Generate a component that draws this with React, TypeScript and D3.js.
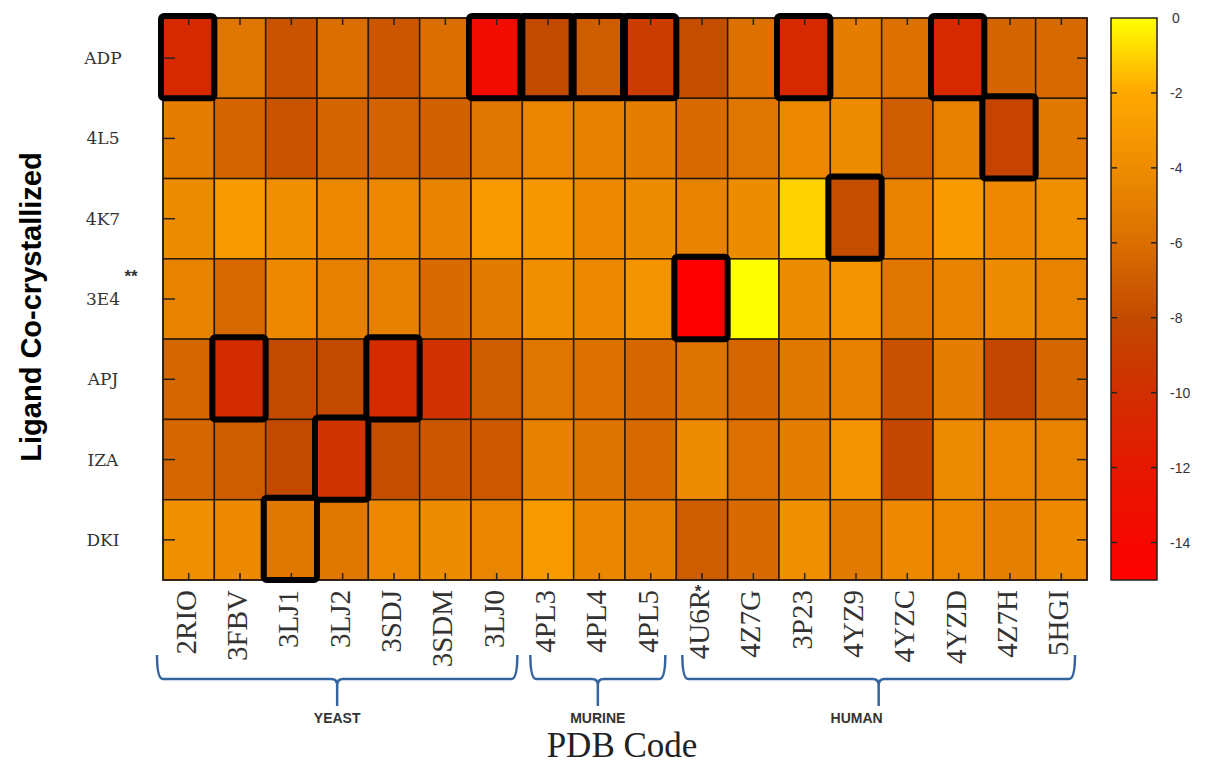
import React from 'react';
import * as d3 from 'd3';

const pdbCodes = ['2RIO', '3FBV', '3LJ1', '3LJ2', '3SDJ', '3SDM', '3LJ0', '4PL3', '4PL4', '4PL5',
  '4U6R', '4Z7G', '3P23', '4YZ9', '4YZC', '4YZD', '4Z7H', '5HGI'];
const ligands = ['ADP', '4L5', '4K7', '3E4', 'APJ', 'IZA', 'DKI'];

// docking scores, one array per ligand (row), in pdbCodes order
const scoreADP = [-10.5, -5.5, -7.5, -6.0, -7.3, -6.0, -13.5, -8.0, -7.0, -9.0, -7.8, -5.8, -10.5, -5.0, -5.8, -10.5, -6.5, -6.3];
const score4L5 = [-5.0, -6.5, -7.5, -6.5, -6.6, -6.8, -5.5, -4.5, -4.7, -5.0, -6.2, -5.5, -4.3, -4.0, -7.0, -4.8, -8.5, -5.3];
const score4K7 = [-4.0, -3.0, -3.8, -4.3, -4.3, -4.6, -3.0, -3.2, -4.2, -4.0, -4.6, -4.0, -1.0, -7.8, -4.6, -3.0, -4.2, -3.8];
const score3E4 = [-4.6, -6.3, -4.2, -4.8, -4.8, -6.2, -5.2, -3.8, -4.2, -3.5, -15.0, 0.0, -4.0, -3.4, -5.5, -4.6, -4.0, -4.6];
const scoreAPJ = [-6.4, -10.3, -8.0, -8.0, -10.3, -9.8, -7.0, -5.5, -5.8, -6.4, -5.7, -6.4, -5.4, -4.7, -7.6, -5.0, -8.2, -6.4];
const scoreIZA = [-6.4, -7.0, -8.0, -9.5, -7.8, -7.3, -7.2, -4.7, -5.6, -6.3, -4.0, -5.9, -5.0, -3.4, -8.2, -4.1, -4.5, -4.6];
const scoreDKI = [-3.8, -4.2, -5.4, -5.4, -4.3, -4.0, -4.5, -3.0, -4.4, -4.9, -7.0, -6.2, -3.8, -5.2, -4.2, -4.3, -4.9, -4.2];
const scores = [scoreADP, score4L5, score4K7, score3E4, scoreAPJ, scoreIZA, scoreDKI];

// highlighted (best) ligand for each PDB code
const boxed: [string, string][] = [
  ['ADP', '2RIO'], ['ADP', '3LJ0'], ['ADP', '4PL3'], ['ADP', '4PL4'], ['ADP', '4PL5'],
  ['ADP', '3P23'], ['ADP', '4YZD'], ['4L5', '4Z7H'], ['4K7', '4YZ9'], ['3E4', '4U6R'],
  ['APJ', '3FBV'], ['APJ', '3SDJ'], ['IZA', '3LJ2'], ['DKI', '3LJ1'],
];

const groups = [
  { name: 'YEAST', from: '2RIO', to: '3LJ0' },
  { name: 'MURINE', from: '4PL3', to: '4PL5' },
  { name: 'HUMAN', from: '4U6R', to: '5HGI' },
];

const colorTicks = [0, -2, -4, -6, -8, -10, -12, -14];

const colorStops = [0, -1, -2, -4, -6, -8, -10, -12, -15];
const colorRange = ['#ffff00', '#ffd200', '#ffa800', '#ee8c00', '#da6e00', '#c24a00', '#d22e00', '#e61800', '#ff0000'];

export default function App() {
  const left = 163, right = 1087, top = 18, bottom = 580;
  const x = d3.scaleBand().domain(pdbCodes).range([left, right]);
  const y = d3.scaleBand().domain(ligands).range([top, bottom]);
  const color = d3.scaleLinear<string>().domain(colorStops).range(colorRange).interpolate(d3.interpolateRgb);

  const cbX = 1111, cbW = 46;
  const cbY = d3.scaleLinear().domain([0, -15]).range([18, 580]);

  const gradStops = d3.range(0, -15.01, -0.5);

  const serif = 'Liberation Serif, DejaVu Serif, serif';
  const slab = "'DejaVu Serif', serif";
  const sans = 'Liberation Sans, Arial, sans-serif';

  const bw = x.bandwidth(), bh = y.bandwidth();

  // brace end tweaks (left, right) and label nudge per group
  const braceAdj = [[-6, -5, 0], [8, -11, 0], [6, -12, -22]];

  const brace = (x0: number, x1: number) => {
    const yTop = 655, yMid = 679, yTip = 706, r = 6;
    const cx = (x0 + x1) / 2;
    return `M${x0},${yTop} Q${x0},${yMid} ${x0 + r},${yMid} L${cx - r},${yMid} Q${cx},${yMid} ${cx},${yMid + r} L${cx},${yTip}`
      + ` M${cx},${yMid + r} Q${cx},${yMid} ${cx + r},${yMid} L${x1 - r},${yMid} Q${x1},${yMid} ${x1},${yTop}`;
  };

  return (
    <svg width={1207} height={767} style={{ position: 'absolute', left: 0, top: 0, background: '#fff' }}>
      <defs>
        <linearGradient id="cbar" x1="0" y1="0" x2="0" y2="1">
          {gradStops.map(v => (
            <stop key={v} offset={`${(v / -15) * 100}%`} stopColor={color(v)} />
          ))}
        </linearGradient>
      </defs>

      {/* cells */}
      {ligands.map((lig, i) =>
        pdbCodes.map((code, j) => (
          <rect key={lig + code} x={x(code)} y={y(lig)} width={bw} height={bh}
            fill={color(scores[i][j])} stroke="#2a1a0a" strokeWidth={1.5} />
        ))
      )}
      <rect x={left} y={top} width={right - left} height={bottom - top} fill="none" stroke="#2a1a0a" strokeWidth={1.5} />

      {/* ticks */}
      {pdbCodes.map(code => {
        const cx = x(code)! + bw / 2;
        return (
          <g key={'t' + code} stroke="#222" strokeWidth={1.5}>
            <line x1={cx} x2={cx} y1={top} y2={top + 7} />
            <line x1={cx} x2={cx} y1={bottom} y2={bottom - 7} />
          </g>
        );
      })}
      {ligands.map(lig => {
        const cy = y(lig)! + bh / 2;
        return (
          <g key={'t' + lig} stroke="#222" strokeWidth={1.5}>
            <line x1={left} x2={left + 12} y1={cy} y2={cy} />
            <line x1={right} x2={right - 10} y1={cy} y2={cy} />
          </g>
        );
      })}

      {/* highlight boxes */}
      {boxed.map(([lig, code]) => (
        <rect key={'b' + lig + code} x={x(code)! - 2} y={y(lig)! - 2} width={bw + 2} height={bh + 2}
          fill="none" stroke="#000" strokeWidth={6} rx={3} />
      ))}

      {/* y labels */}
      {ligands.map(lig => (
        <text key={'yl' + lig} x={103} y={y(lig)! + bh / 2 + 6} textAnchor="middle"
          fontFamily={slab} fontSize={17} fill="#333">{lig}</text>
      ))}
      <text x={131} y={y('3E4')! + bh / 2 - 17} textAnchor="middle" fontFamily={sans} fontSize={17}
        fontWeight="bold" fill="#333">**</text>
      <text transform="translate(41,307) rotate(-90)" textAnchor="middle" fontFamily={sans}
        fontSize={29} fontWeight="bold" fill="#000">Ligand Co-crystallized</text>

      {/* x labels */}
      {pdbCodes.map(code => (
        <text key={'xl' + code} transform={`translate(${x(code)! + bw / 2 + 7},590) rotate(-90)`}
          textAnchor="end" fontFamily={serif} fontSize={29} fill="#333">{code}</text>
      ))}
      <text x={x('4U6R')! + bw / 2 - 4} y={597} textAnchor="middle" fontFamily={sans} fontSize={17}
        fontWeight="bold" fill="#333">*</text>

      {/* group braces */}
      {groups.map((g, i) => {
        const x0 = x(g.from)! + braceAdj[i][0], x1 = x(g.to)! + bw + braceAdj[i][1];
        return (
          <g key={g.name}>
            <path d={brace(x0, x1)} fill="none" stroke="#3565a0" strokeWidth={2.5} />
            <text x={(x0 + x1) / 2 + braceAdj[i][2]} y={723} textAnchor="middle" fontFamily={sans} fontSize={14}
              fontWeight="bold" fill="#333">{g.name}</text>
          </g>
        );
      })}
      <text x={622} y={757} textAnchor="middle" fontFamily={serif} fontSize={35} fill="#222">PDB Code</text>

      {/* colorbar */}
      <rect x={cbX} y={cbY(0)} width={cbW} height={cbY(-15) - cbY(0)} fill="url(#cbar)" stroke="#222" strokeWidth={1.5} />
      {colorTicks.map(t => (
        <g key={'c' + t}>
          {t !== 0 && (
            <g stroke="#222" strokeWidth={1.5}>
              <line x1={cbX} x2={cbX + 6} y1={cbY(t)} y2={cbY(t)} />
              <line x1={cbX + cbW - 6} x2={cbX + cbW} y1={cbY(t)} y2={cbY(t)} />
            </g>
          )}
          <text x={t === 0 ? 1172 : 1170} y={cbY(t) + 5} fontFamily={sans} fontSize={14} fill="#333">{t}</text>
        </g>
      ))}
    </svg>
  );
}
